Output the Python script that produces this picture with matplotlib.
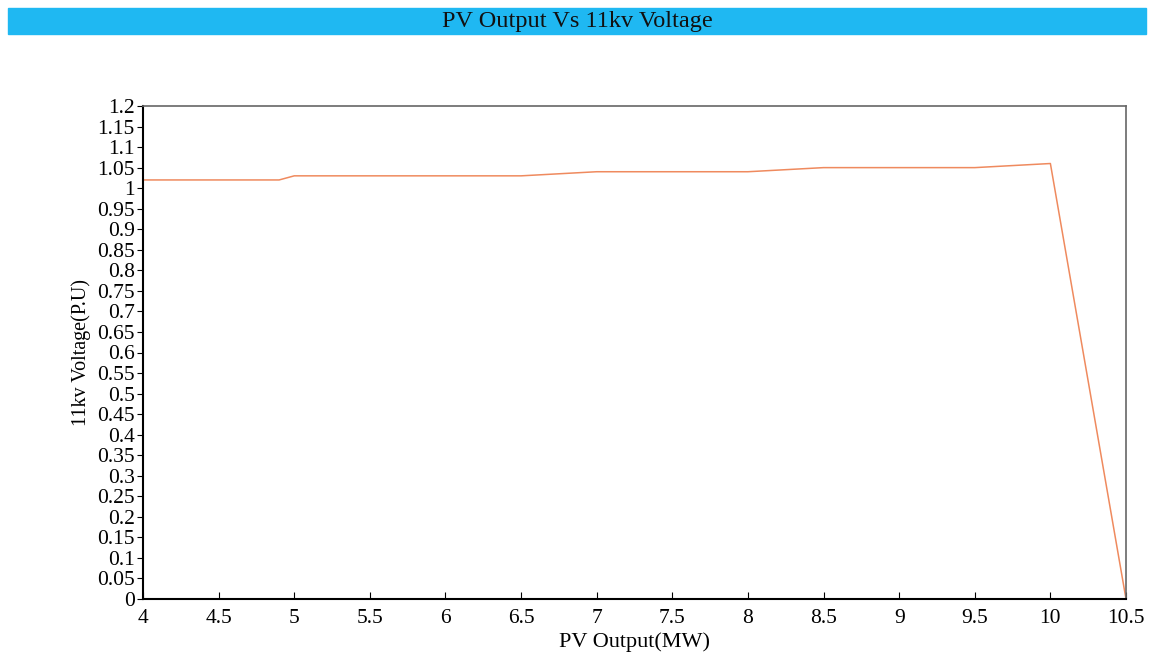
import matplotlib.pyplot as plt
import numpy as np

# PV output (MW) vs 11kV bus voltage (p.u.)
pv_output = [4, 4.9, 5, 6.5, 7, 8, 8.5, 9.5, 10, 10.5]
voltage = [1.02, 1.02, 1.03, 1.03, 1.04, 1.04, 1.05, 1.05, 1.06, 0.0]

x_ticks = np.arange(4, 10.51, 0.5)
y_ticks = np.arange(0, 1.2001, 0.05)

plt.rcParams['font.family'] = ['Liberation Serif', 'DejaVu Serif']

fig = plt.figure(figsize=(11.54, 6.54), dpi=100)

# title band across the top
fig.patches.append(plt.Rectangle((8 / 1154, 1 - 34 / 654), 1138 / 1154, 26 / 654,
                                 transform=fig.transFigure, color='#1fb8f2', zorder=0))
fig.text(0.5, 1 - 22 / 654, 'PV Output Vs 11kv Voltage', ha='center', va='center',
         fontsize=17.5, color='#111111')

ax = fig.add_axes([143 / 1154, 1 - 599 / 654, (1126 - 143) / 1154, (599 - 106) / 654])
ax.plot(pv_output, voltage, color='#ef8a5e', lw=1.1)

ax.set_xlim(4, 10.5)
ax.set_ylim(0, 1.2)
ax.set_xticks(x_ticks)
ax.set_xticklabels(['%g' % v for v in x_ticks])
ax.set_yticks(y_ticks)
ax.set_yticklabels(['%g' % round(v, 2) for v in y_ticks])
ax.tick_params(axis='x', direction='in', length=5, labelsize=15.5, pad=7)
ax.tick_params(axis='y', direction='out', length=4, labelsize=15.5, pad=2)

for s in ['left', 'bottom']:
    ax.spines[s].set_color('black')
    ax.spines[s].set_linewidth(1.5)
for s in ['top', 'right']:
    ax.spines[s].set_color('#666666')
    ax.spines[s].set_linewidth(1.2)

ax.set_xlabel('PV Output(MW)', fontsize=16, labelpad=3)
ax.set_ylabel('11kv Voltage(P.U)', fontsize=14.5, labelpad=4)

fig.savefig('out.png', dpi=100)
